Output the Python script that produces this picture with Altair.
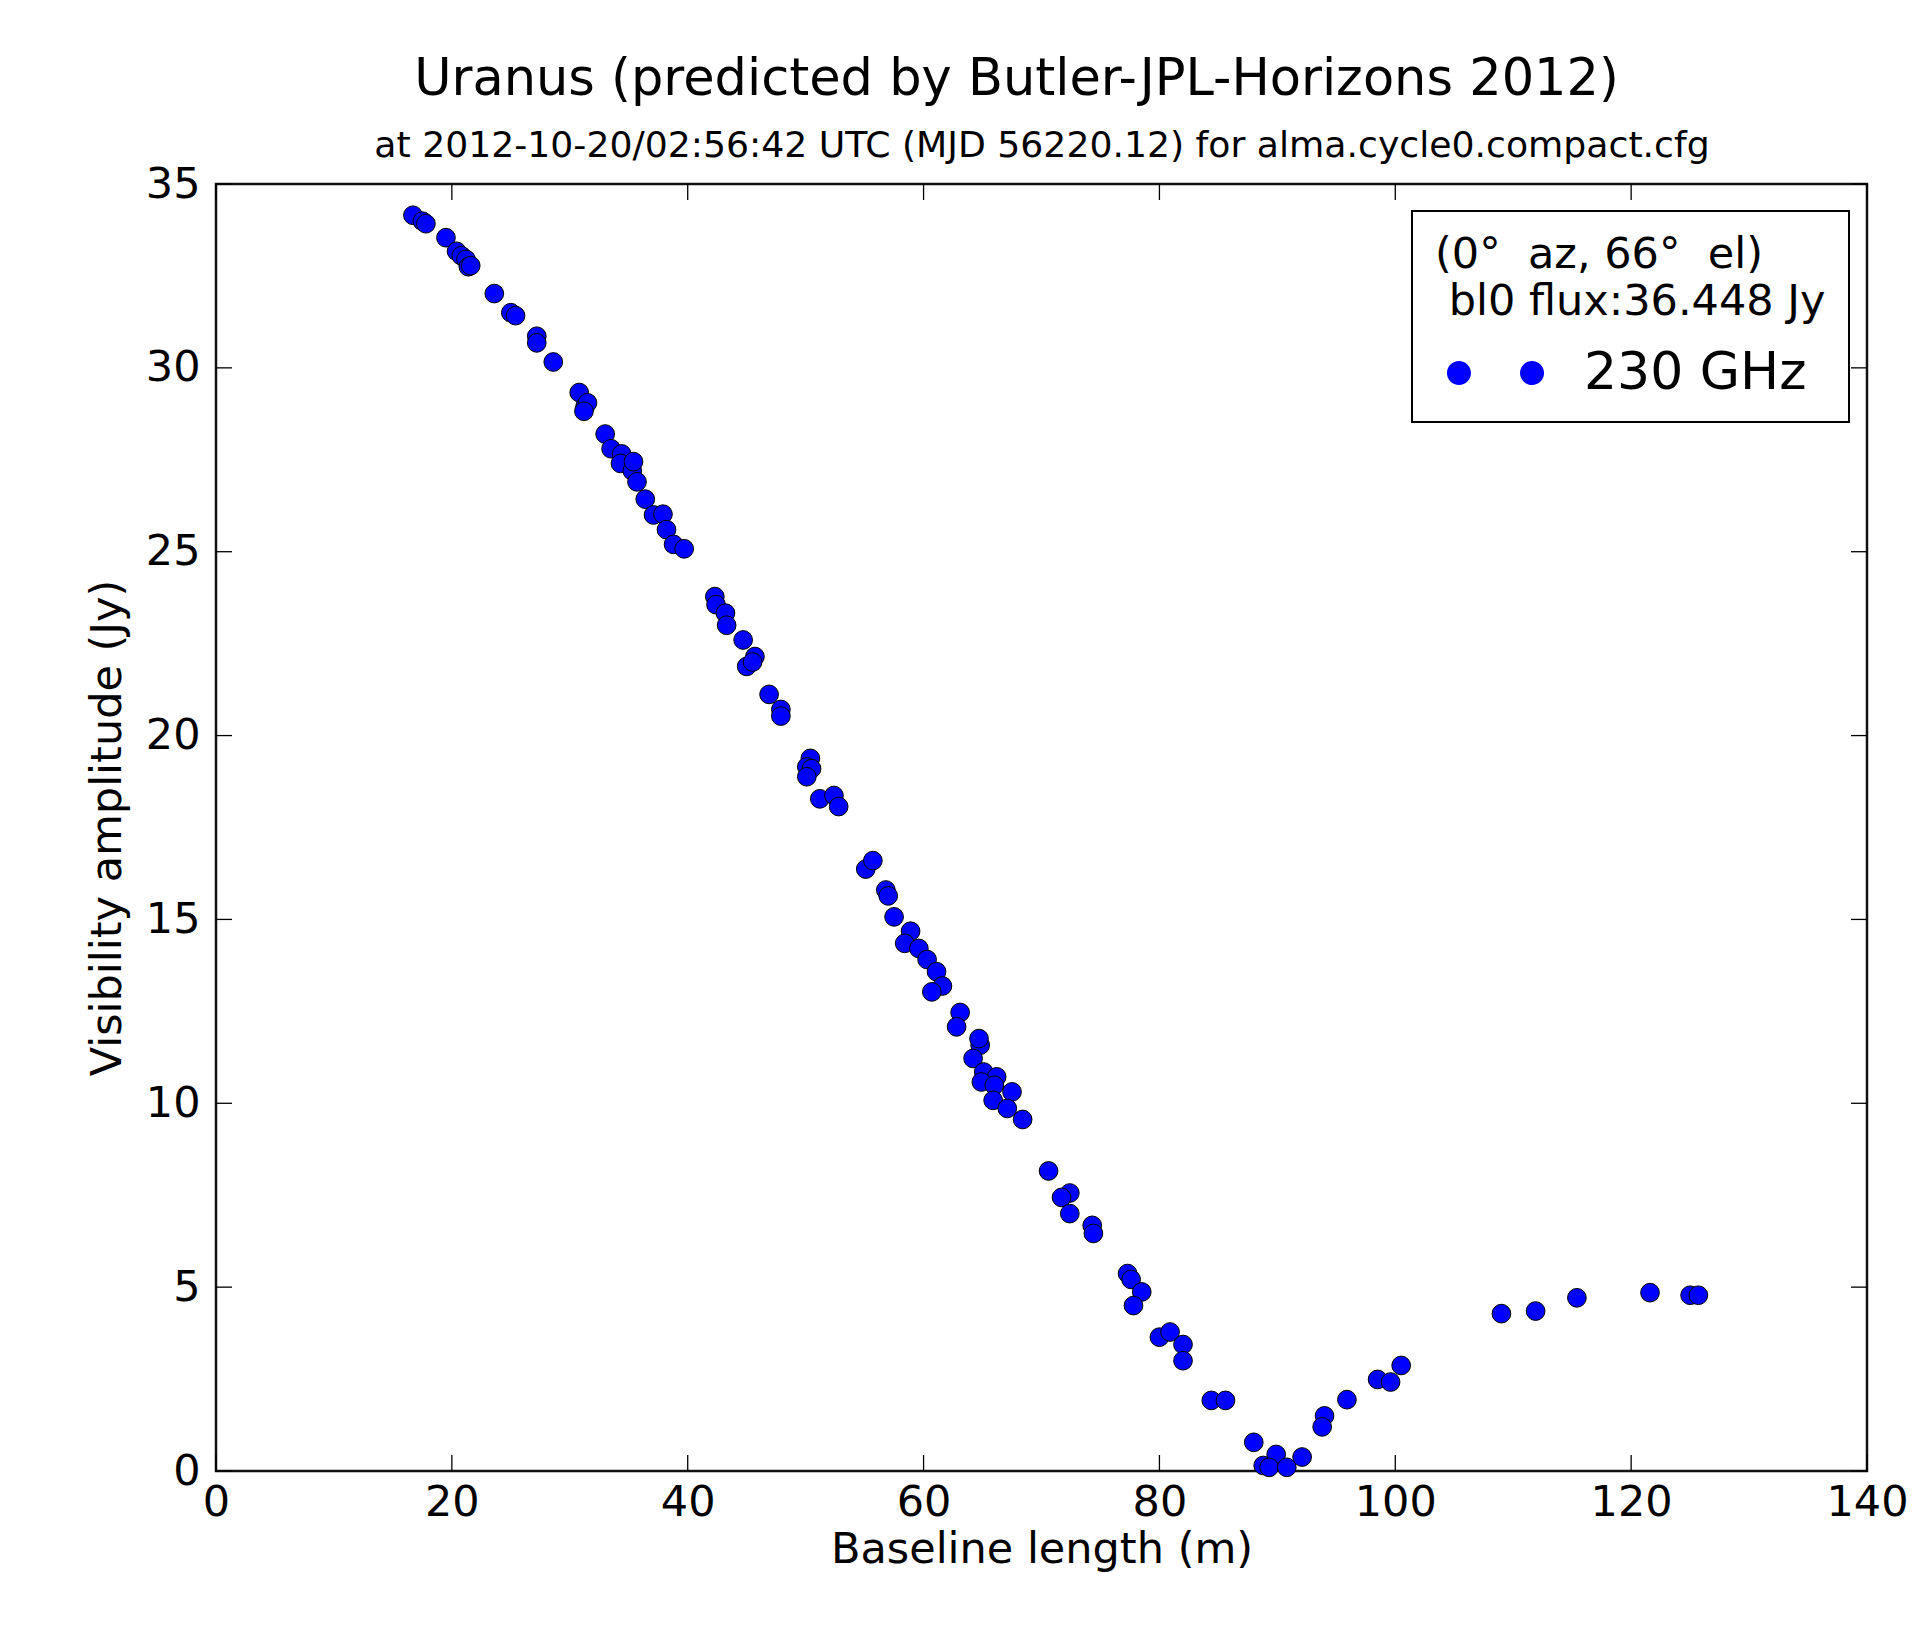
import altair as alt
import pandas as pd

FONT = "DejaVu Sans"

# ---- data ----
baseline_m = [
    16.7, 17.5, 17.8, 19.5, 20.4, 20.8, 21.2, 21.4, 21.6, 23.6,
    25.0, 25.4, 27.2, 27.2, 28.6, 30.8, 31.3, 31.5, 31.2, 33.0,
    33.5, 34.4, 34.3, 35.3, 35.4, 35.7, 36.4, 37.1, 37.9, 38.2,
    38.8, 39.7, 42.3, 42.4, 43.2, 43.3, 44.7, 45.7, 45.0, 45.5,
    46.9, 47.9, 47.9, 50.4, 50.1, 50.5, 50.1, 51.2, 52.4, 52.8,
    55.1, 55.7, 56.8, 57.0, 57.5, 58.9, 58.4, 59.6, 60.3, 61.1,
    61.6, 60.7, 63.1, 62.8, 64.8, 64.7, 64.2, 65.1, 66.2, 64.9,
    66.0, 67.5, 65.9, 67.1, 68.4, 70.6, 72.4, 71.7, 72.4, 74.3,
    74.4, 77.3, 77.6, 78.5, 77.8, 80.0, 80.9, 82.0, 82.0, 84.4,
    85.6, 88.0, 88.8, 89.9, 89.3, 90.8, 92.1, 94.0, 93.8, 95.9,
    98.5, 99.6, 100.5, 109.0, 111.9, 115.4, 121.6, 125.0, 125.7,
]
amplitude_jy = [
    34.15, 33.99, 33.92, 33.54, 33.17, 33.05, 32.95, 32.75, 32.78, 32.02,
    31.50, 31.42, 30.86, 30.68, 30.16, 29.33, 28.95, 29.05, 28.82, 28.20,
    27.80, 27.66, 27.40, 27.20, 27.45, 26.90, 26.43, 26.00, 26.02, 25.60,
    25.20, 25.08, 23.78, 23.56, 23.33, 23.00, 22.60, 22.15, 21.88, 22.00,
    21.12, 20.71, 20.53, 19.38, 19.15, 19.10, 18.88, 18.28, 18.37, 18.07,
    16.37, 16.60, 15.80, 15.64, 15.07, 14.68, 14.35, 14.21, 13.91, 13.58,
    13.19, 13.03, 12.47, 12.08, 11.58, 11.76, 11.22, 10.85, 10.72, 10.58,
    10.49, 10.31, 10.08, 9.86, 9.56, 8.16, 7.56, 7.44, 7.00, 6.68,
    6.46, 5.37, 5.21, 4.87, 4.50, 3.64, 3.78, 3.44, 3.00, 1.92,
    1.92, 0.78, 0.15, 0.45, 0.10, 0.10, 0.38, 1.50, 1.20, 1.94,
    2.49, 2.42, 2.87, 4.28, 4.35, 4.71, 4.85, 4.78, 4.78,
]
band_label = "230 GHz"
x_ticks = [0, 20, 40, 60, 80, 100, 120, 140]
y_ticks = [0, 5, 10, 15, 20, 25, 30, 35]

TITLE = "Uranus (predicted by Butler-JPL-Horizons 2012)"
SUBTITLE = "at 2012-10-20/02:56:42 UTC (MJD 56220.12) for alma.cycle0.compact.cfg"
X_TITLE = "Baseline length (m)"
Y_TITLE = "Visibility amplitude (Jy)"
LEGEND_LINES = ["(0°\u00a0\u00a0az, 66°\u00a0\u00a0el)", "\u200b\u00a0bl0 flux:36.448 Jy"]

# ---- layout ----
W, H = 1651, 1287
XMAX, YMAX = 140, 35
TICK_PX = 16
TX = TICK_PX / W * XMAX
TY = TICK_PX / H * YMAX

xs = alt.Scale(domain=[0, XMAX], nice=False, zero=False)
ys = alt.Scale(domain=[0, YMAX], nice=False, zero=False)

pts = pd.DataFrame({"x": baseline_m, "y": amplitude_jy, "band": band_label})

# two-dot legend symbol (custom path, unit = sqrt(size)/2 px)
TWO_DOTS = ("M -1.17 0 A 1 1 0 1 0 0.83 0 A 1 1 0 1 0 -1.17 0 Z "
            "M 4.92 0 A 1 1 0 1 0 6.92 0 A 1 1 0 1 0 4.92 0 Z")

points = alt.Chart(pts).mark_circle(
    size=350, opacity=1, stroke="black", strokeWidth=1
).encode(
    x=alt.X("x:Q", scale=xs, axis=alt.Axis(
        orient="bottom", values=x_ticks, title=X_TITLE, format="d",
        labelFont=FONT, labelFontSize=43, labelColor="black", labelPadding=10,
        labelFlush=False, labelOverlap=False,
        ticks=False, tickSize=0, domain=False, grid=False,
        titleFont=FONT, titleFontSize=43, titleFontWeight="normal",
        titleColor="black", titlePadding=4)),
    y=alt.Y("y:Q", scale=ys, axis=alt.Axis(
        orient="left", values=y_ticks, title=Y_TITLE, format="d",
        labelFont=FONT, labelFontSize=43, labelColor="black", labelPadding=16,
        labelFlush=False, labelOverlap=False,
        ticks=False, tickSize=0, domain=False, grid=False,
        titleFont=FONT, titleFontSize=43, titleFontWeight="normal",
        titleColor="black", titlePadding=16)),
    color=alt.Color("band:N", scale=alt.Scale(domain=[band_label], range=["#0000ff"]),
                    legend=alt.Legend(
                        title=LEGEND_LINES, orient="none", legendX=1196, legendY=27,
                        titleFont=FONT, titleFontSize=43, titleFontWeight="normal",
                        titleColor="black", titleLineHeight=47, titlePadding=37,
                        titleAnchor="start", titleLimit=2000,
                        labelFont=FONT, labelFontSize=52, labelColor="black",
                        labelOffset=97, labelLimit=2000, clipHeight=24,
                        symbolType=TWO_DOTS, symbolSize=576, symbolStrokeWidth=0,
                        symbolFillColor="#0000ff", symbolOpacity=1,
                        padding=23, strokeColor="black", fillColor="white",
                        cornerRadius=0)),
)

bx = pd.DataFrame({"x": x_ticks})
by = pd.DataFrame({"y": y_ticks})

tick_style = dict(color="black", strokeWidth=1.3)

ticks_bottom = alt.Chart(bx).mark_rule(**tick_style).encode(
    x=alt.X("x:Q", scale=xs, axis=None),
    y=alt.Y("y0:Q", scale=ys, axis=None),
    y2="y1:Q",
).transform_calculate(y0="0", y1=str(TY))

ticks_top = alt.Chart(bx).mark_rule(**tick_style).encode(
    x=alt.X("x:Q", scale=xs, axis=alt.Axis(
        orient="top", title=SUBTITLE, labels=False, ticks=False, domain=False,
        grid=False, titleFont=FONT, titleFontSize=36.2, titleFontWeight="normal",
        titleColor="black", titlePadding=20)),
    y=alt.Y("y0:Q", scale=ys, axis=None),
    y2="y1:Q",
).transform_calculate(y0=str(YMAX - TY), y1=str(YMAX))

ticks_left = alt.Chart(by).mark_rule(**tick_style).encode(
    y=alt.Y("y:Q", scale=ys, axis=None),
    x=alt.X("x0:Q", scale=xs, axis=None),
    x2="x1:Q",
).transform_calculate(x0="0", x1=str(TX))

ticks_right = alt.Chart(by).mark_rule(**tick_style).encode(
    y=alt.Y("y:Q", scale=ys, axis=None),
    x=alt.X("x0:Q", scale=xs, axis=None),
    x2="x1:Q",
).transform_calculate(x0=str(XMAX - TX), x1=str(XMAX))

chart = alt.layer(
    ticks_bottom, ticks_top, ticks_left, ticks_right, points
).resolve_axis(x="independent", y="independent").properties(
    width=W, height=H,
    title=alt.TitleParams(text=TITLE, font=FONT, fontSize=51, fontWeight="normal",
                          color="black", anchor="middle", dx=-25,
                          baseline="alphabetic", offset=-19),
    autosize=alt.AutoSizeParams(type="none"),
    padding={"left": 208, "top": 176, "right": 44, "bottom": 150},
).configure_view(stroke="#111111", strokeWidth=2.5).configure_legend(
    strokeWidth=2
)

chart.save("out.html", embed_options={"renderer": "svg", "actions": False})
